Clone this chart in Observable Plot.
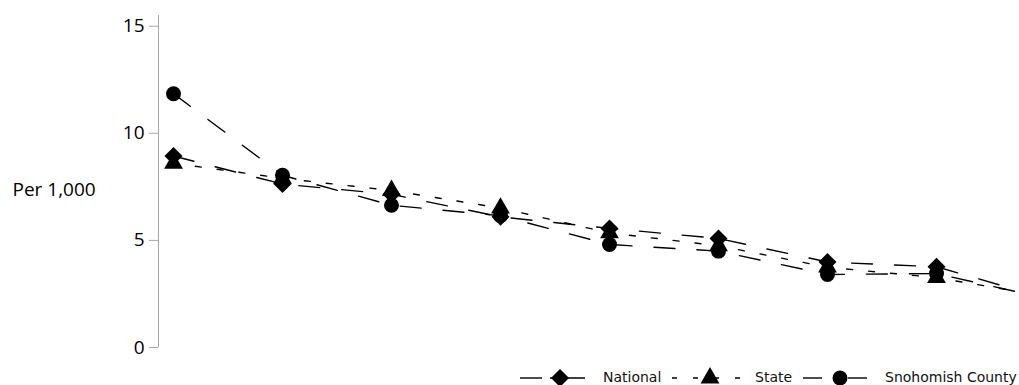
<!DOCTYPE html>
<html>
<head>
<meta charset="utf-8">
<script src="https://cdn.jsdelivr.net/npm/d3@7"></script>
<script src="https://cdn.jsdelivr.net/npm/@observablehq/plot@0.6"></script>
<style>
  html, body { margin: 0; padding: 0; background: #fff; }
  #chart { width: 1019px; }
  #legend { display: block; }
</style>
</head>
<body>
<div id="chart"></div>
<script>
// ---- data ----
const periods = [1, 2, 3, 4, 5, 6, 7, 8, 9];
const national  = [8.94, 7.63, 7.15, 6.10, 5.56, 5.09, 3.99, 3.77, 2.30];
const stateVals = [8.60, 7.90, 7.33, 6.51, 5.35, 4.75, 3.75, 3.26, 2.40];
const snohomish = [11.85, 8.04, 6.64, 6.15, 4.81, 4.50, 3.41, 3.45, 2.30];
const seriesNames = ["National", "State", "Snohomish County"];
const yTicks = [0, 5, 10, 15];
const yLabel = "Per 1,000";

const seriesValues = [national, stateVals, snohomish];
const styles = {
  "National": {dash: "21,22", symbol: "diamond2", r: 8.1},
  "State": {dash: "6,16", symbol: "triangle", r: 7},
  "Snohomish County": {dash: "21,22", symbol: "circle", r: 7.5}
};
const rows = seriesNames.flatMap((name, i) =>
  periods.map((p, j) => ({series: name, period: p, value: seriesValues[i][j]})));

const xDomain = [0.8624, 8.7615];
const yDomain = [0, 15.5];

const marks = [
  Plot.ruleX([xDomain[0]], {y1: yDomain[0], y2: yDomain[1], stroke: "#a6a6a6", strokeWidth: 1}),
  Plot.axisY({ticks: yTicks, tickSize: 9, tickPadding: 5, stroke: "#a6a6a6", fill: "#000",
              fontSize: 19, fontFamily: "Open Sans", label: null})
];
for (const name of seriesNames) {
  const data = rows.filter(d => d.series === name);
  marks.push(Plot.line(data, {x: "period", y: "value", stroke: "#000", strokeWidth: 1.4,
    strokeDasharray: styles[name].dash, clip: true}));
}
for (const name of seriesNames) {
  const data = rows.filter(d => d.series === name);
  marks.push(Plot.dot(data, {x: "period", y: "value", symbol: () => styles[name].symbol,
    r: styles[name].r, fill: "#000", stroke: "none", clip: true}));
}
marks.push(Plot.text([yLabel], {frameAnchor: "left", dx: -146, dy: 8, textAnchor: "start",
  fontSize: 19, fontFamily: "Open Sans", fill: "#000"}));

const chart = Plot.plot({
  width: 1019,
  height: 362,
  marginLeft: 158,
  marginRight: 0,
  marginTop: 15,
  marginBottom: 15,
  style: {fontFamily: "Open Sans", background: "#fff", overflow: "visible"},
  x: {type: "linear", domain: xDomain, axis: null},
  y: {domain: yDomain, axis: null},
  symbol: {type: "identity"},
  marks
});
document.getElementById("chart").appendChild(chart);

// ---- legend below the chart ----
const legendItems = [
  {name: seriesNames[0], x: 520, textX: 603, w: 65, cx: 40, segs: [[0, 22], [30, 65]], dash: null},
  {name: seriesNames[1], x: 672, textX: 755, w: 70, cx: 38, segs: [[0, 70]], dash: "5,16"},
  {name: seriesNames[2], x: 803, textX: 885, w: 64, cx: 37, segs: [[0, 19], [45, 64]], dash: null}
];
const symMap = {diamond2: d3.symbolDiamond2, triangle: d3.symbolTriangle, circle: d3.symbolCircle};
const legend = d3.select("#chart").append("svg")
  .attr("id", "legend").attr("width", 1019).attr("height", 23)
  .style("font-family", "'DejaVu Sans', sans-serif").style("font-size", "14px");
for (const it of legendItems) {
  const st = styles[it.name];
  const g = legend.append("g").attr("transform", `translate(${it.x},16)`);
  for (const [a, b] of it.segs) {
    g.append("line").attr("x1", a).attr("x2", b).attr("y1", 0).attr("y2", 0)
      .attr("stroke", "#000").attr("stroke-width", 1.4)
      .attr("stroke-dasharray", it.dash);
  }
  g.append("path").attr("transform", `translate(${it.cx},0)`)
    .attr("d", d3.symbol(symMap[st.symbol], Math.PI * st.r * st.r)())
    .attr("fill", "#000");
  legend.append("text").attr("x", it.textX).attr("y", 20).attr("fill", "#111").text(it.name);
}
</script>
</body>
</html>
